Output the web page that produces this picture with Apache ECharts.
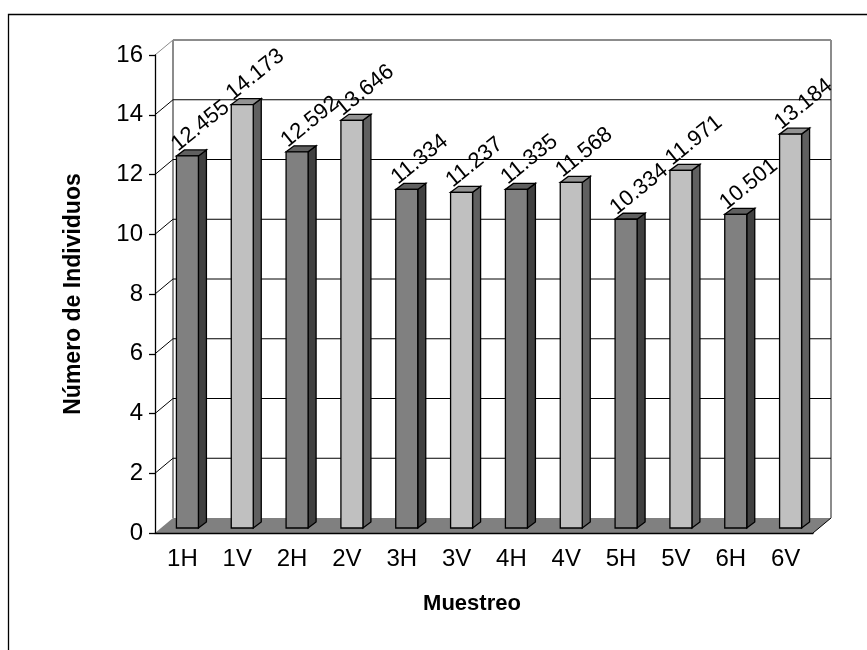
<!DOCTYPE html>
<html>
<head>
<meta charset="utf-8">
<script src="https://cdn.jsdelivr.net/npm/echarts@6/dist/echarts.min.js"></script>
<style>
html, body { margin: 0; padding: 0; background: #fff; }
#main { width: 867px; height: 650px; }
</style>
</head>
<body>
<div id="main"></div>
<script>
var categories = ['1H', '1V', '2H', '2V', '3H', '3V', '4H', '4V', '5H', '5V', '6H', '6V'];
var values = [12.455, 14.173, 12.592, 13.646, 11.334, 11.237, 11.335, 11.568, 10.334, 11.971, 10.501, 13.184];
var yTicks = [0, 2, 4, 6, 8, 10, 12, 14, 16];

var FONT = '"Liberation Sans", Arial, sans-serif';
// 3d look: back wall offset and bar offsets (px)
var WALL_DX = 18, WALL_DY = -15;
var BAR_DX = 5, BAR_DY = -5, BAR_W = 22, DEPTH_DX = 8, DEPTH_DY = -6;

// dark bars for H, light bars for V
var colorsH = { front: '#808080', top: '#606060', side: '#404040' };
var colorsV = { front: '#c0c0c0', top: '#939393', side: '#606060' };

function renderWall(params, api) {
    var cs = params.coordSys;
    var v = api.value(0);
    var y = api.coord([0, v])[1];
    var yTop = api.coord([0, yTicks[yTicks.length - 1]])[1];
    var x0 = cs.x, x1 = cs.x + cs.width;
    var ch = [];
    if (v === 0) {
        ch.push({
            type: 'polygon',
            shape: { points: [[x0, y], [x1, y], [x1 + WALL_DX, y + WALL_DY], [x0 + WALL_DX, y + WALL_DY]] },
            style: { fill: '#808080', stroke: null }
        });
        ch.push({
            type: 'line',
            shape: { x1: x1, y1: y, x2: x1 + WALL_DX, y2: y + WALL_DY },
            style: { stroke: '#000', lineWidth: 1 }
        });
        // wall edges
        ch.push({
            type: 'line',
            shape: { x1: x0 + WALL_DX, y1: y + WALL_DY, x2: x0 + WALL_DX, y2: yTop + WALL_DY },
            style: { stroke: '#8c8c8c', lineWidth: 2 }
        });
        ch.push({
            type: 'line',
            shape: { x1: x1 + WALL_DX, y1: y + WALL_DY, x2: x1 + WALL_DX, y2: yTop + WALL_DY },
            style: { stroke: '#8c8c8c', lineWidth: 2 }
        });
    } else {
        var isTop = v === yTicks[yTicks.length - 1];
        var c = isTop ? '#8c8c8c' : '#000';
        ch.push({
            type: 'line',
            shape: { x1: x0 + WALL_DX, y1: y + WALL_DY, x2: x1 + WALL_DX, y2: y + WALL_DY },
            style: { stroke: c, lineWidth: isTop ? 2 : 1 }
        });
        ch.push({
            type: 'line',
            shape: { x1: x0, y1: y, x2: x0 + WALL_DX, y2: y + WALL_DY },
            style: { stroke: c, lineWidth: 1 }
        });
    }
    return { type: 'group', children: ch };
}

function renderBar(params, api) {
    var idx = api.value(0);
    var val = api.value(1);
    var base = api.coord([idx, 0]);
    var top = api.coord([idx, val]);
    var cx = base[0];
    var fl = cx - BAR_W / 2 + BAR_DX;
    var fr = fl + BAR_W;
    var yb = base[1] + BAR_DY;
    var yt = top[1] + BAR_DY;
    var col = categories[idx].indexOf('H') >= 0 ? colorsH : colorsV;
    var stroke = { stroke: '#000', lineWidth: 1.3, lineJoin: 'miter' };
    return {
        type: 'group',
        children: [
            {
                type: 'polygon',
                shape: { points: [[fr, yb], [fr + DEPTH_DX, yb + DEPTH_DY], [fr + DEPTH_DX, yt + DEPTH_DY], [fr, yt]] },
                style: Object.assign({ fill: col.side }, stroke)
            },
            {
                type: 'polygon',
                shape: { points: [[fl, yt], [fl + DEPTH_DX, yt + DEPTH_DY], [fr + DEPTH_DX, yt + DEPTH_DY], [fr, yt]] },
                style: Object.assign({ fill: col.top }, stroke)
            },
            {
                type: 'rect',
                shape: { x: fl, y: yt, width: BAR_W, height: yb - yt },
                style: Object.assign({ fill: col.front }, stroke)
            },
            {
                type: 'text',
                x: fl + 24,
                y: yt - 30,
                rotation: 0.68,
                style: {
                    text: String(val),
                    font: '22px ' + FONT,
                    fill: '#000',
                    align: 'center',
                    verticalAlign: 'middle'
                }
            }
        ]
    };
}

var chart = echarts.init(document.getElementById('main'));
chart.setOption({
    backgroundColor: '#fff',
    animation: false,
    graphic: [{
        type: 'rect',
        shape: { x: 8.5, y: 14.5, width: 900, height: 700 },
        style: { fill: 'none', stroke: '#000', lineWidth: 1.3 },
        z: -1
    }],
    grid: { left: 155, right: 54, top: 55, bottom: 117 },
    xAxis: {
        type: 'category',
        data: categories,
        z: 10,
        axisLine: { lineStyle: { color: '#000', width: 1.3 } },
        axisTick: { length: 8, lineStyle: { color: '#000', width: 1.3 } },
        axisLabel: { color: '#000', fontSize: 24, fontFamily: FONT, margin: 14 },
        name: 'Muestreo',
        nameLocation: 'middle',
        nameGap: 60,
        nameTextStyle: { color: '#000', fontSize: 22, fontWeight: 'bold', fontFamily: FONT, padding: [0, 24, 0, 0] }
    },
    yAxis: {
        type: 'value',
        min: 0,
        max: 16,
        interval: 2,
        z: 10,
        axisLine: { show: true, lineStyle: { color: '#000', width: 1.3 } },
        axisTick: { show: true, length: 6, lineStyle: { color: '#000', width: 1.3 } },
        axisLabel: { color: '#000', fontSize: 24, fontFamily: FONT, margin: 12 },
        splitLine: { show: false },
        name: 'Número de Individuos',
        nameLocation: 'middle',
        nameGap: 70,
        nameTextStyle: { color: '#000', fontSize: 23, fontWeight: 'bold', fontFamily: FONT }
    },
    series: [
        {
            type: 'custom',
            name: 'wall',
            z: 1,
            silent: true,
            renderItem: renderWall,
            encode: { y: 0 },
            data: yTicks.map(function (v) { return [v]; })
        },
        {
            type: 'custom',
            name: 'bars',
            z: 2,
            renderItem: renderBar,
            encode: { x: 0, y: 1 },
            data: values.map(function (v, i) { return [i, v]; })
        }
    ]
});
</script>
</body>
</html>
